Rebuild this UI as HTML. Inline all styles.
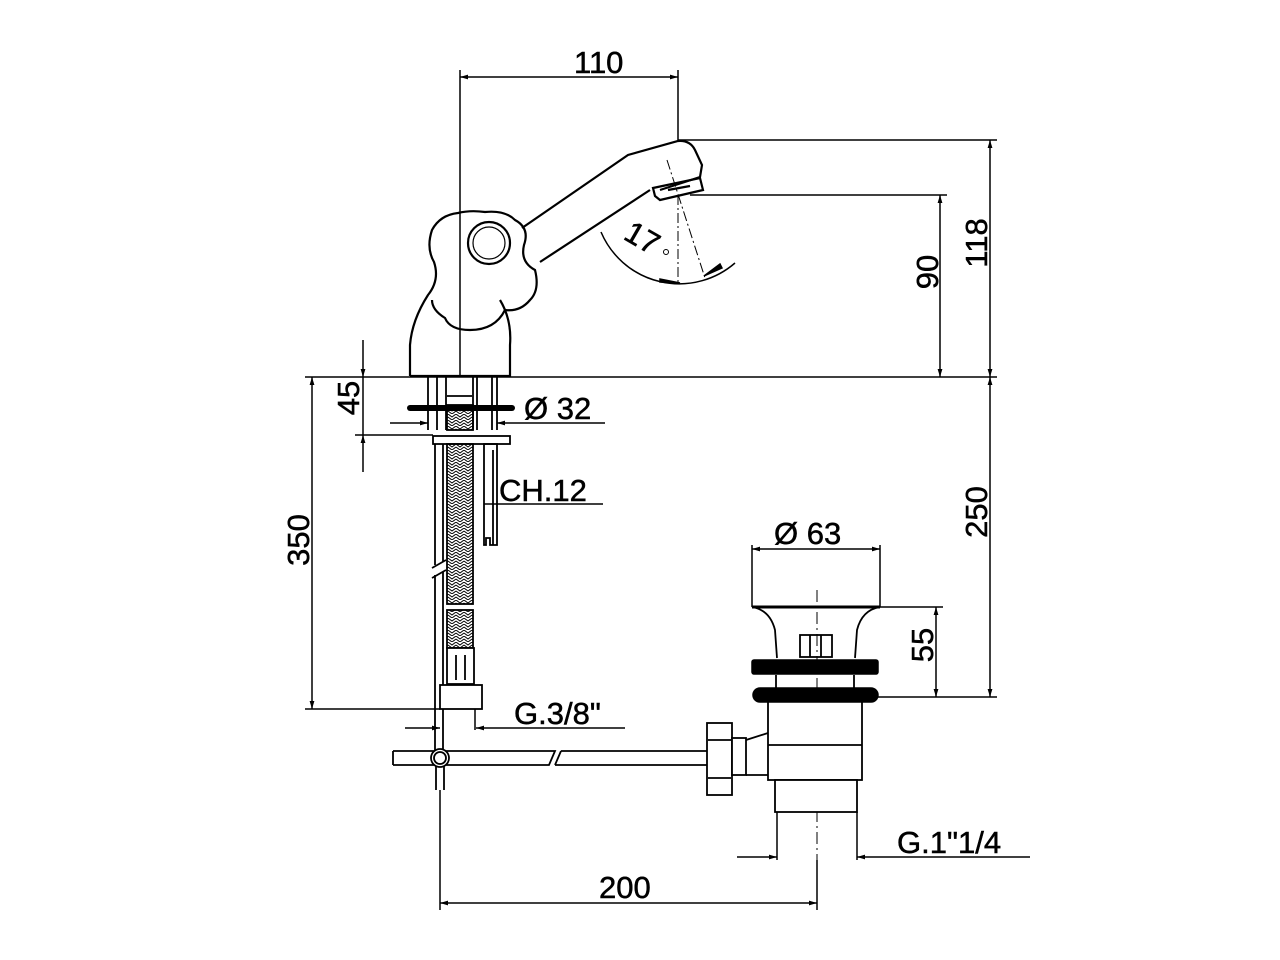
<!DOCTYPE html>
<html><head><meta charset="utf-8"><style>
html,body{margin:0;padding:0;background:#fff}
svg{display:block}
text{font-family:"Liberation Sans",Arial,sans-serif;font-size:31px;fill:#000;stroke:#000;stroke-width:0.5}
</style></head><body>
<svg width="1280" height="960" viewBox="0 0 1280 960" xmlns="http://www.w3.org/2000/svg">
<defs>
<marker id="a" viewBox="0 0 10 10" refX="10" refY="5" markerWidth="12" markerHeight="8" markerUnits="userSpaceOnUse" orient="auto-start-reverse"><path d="M0,2 L10,5 L0,8 Z" fill="#000"/></marker>
<pattern id="h" width="8" height="6" patternUnits="userSpaceOnUse"><path d="M0,0 L4,3 L8,0 M0,3 L4,6 L8,3" stroke="#000" stroke-width="1" fill="none"/></pattern>
</defs>
<g stroke="#000" stroke-width="1.5" fill="none">
<line x1="460" y1="70" x2="460" y2="377"/>
<line x1="678" y1="70" x2="678" y2="140"/>
<line x1="460" y1="77" x2="678" y2="77" marker-start="url(#a)" marker-end="url(#a)"/>
<line x1="678" y1="140" x2="997" y2="140"/>
<line x1="690" y1="195" x2="947" y2="195"/>
<line x1="990" y1="140" x2="990" y2="377" marker-start="url(#a)" marker-end="url(#a)"/>
<line x1="940" y1="195" x2="940" y2="377" marker-start="url(#a)" marker-end="url(#a)"/>
<line x1="305" y1="377" x2="997" y2="377"/>
<line x1="990" y1="377" x2="990" y2="697" marker-start="url(#a)" marker-end="url(#a)"/>
<line x1="860" y1="697" x2="997" y2="697"/>
<line x1="880" y1="607" x2="943" y2="607"/>
<line x1="936" y1="607" x2="936" y2="697" marker-start="url(#a)" marker-end="url(#a)"/>
<line x1="312" y1="377" x2="312" y2="709" marker-start="url(#a)" marker-end="url(#a)"/>
<line x1="305" y1="709" x2="440" y2="709"/>
<line x1="363" y1="340" x2="363" y2="377" marker-end="url(#a)"/>
<line x1="363" y1="472" x2="363" y2="435" marker-end="url(#a)"/>
<line x1="363" y1="377" x2="363" y2="435"/>
<line x1="355" y1="435" x2="433" y2="435"/>
<line x1="390" y1="423" x2="428" y2="423" marker-end="url(#a)"/>
<line x1="605" y1="423" x2="497" y2="423" marker-end="url(#a)"/>
<line x1="484" y1="504" x2="603" y2="504"/>
<line x1="752" y1="545" x2="752" y2="607"/>
<line x1="880" y1="545" x2="880" y2="607"/>
<line x1="752" y1="549" x2="880" y2="549" marker-start="url(#a)" marker-end="url(#a)"/>
<line x1="475" y1="709" x2="475" y2="730"/>
<line x1="405" y1="728" x2="440" y2="728" marker-end="url(#a)"/>
<line x1="625" y1="728" x2="476" y2="728" marker-end="url(#a)"/>
<line x1="777" y1="812" x2="777" y2="860"/>
<line x1="857" y1="812" x2="857" y2="860"/>
<line x1="737" y1="857" x2="777" y2="857" marker-end="url(#a)"/>
<line x1="1030" y1="857" x2="857" y2="857" marker-end="url(#a)"/>
<line x1="440" y1="790" x2="440" y2="910"/>
<line x1="817" y1="860" x2="817" y2="910"/>
<line x1="440" y1="903" x2="817" y2="903" marker-start="url(#a)" marker-end="url(#a)"/>
<line x1="817" y1="590" x2="817" y2="860" stroke-dasharray="12,4,2,4" stroke-width="1"/>
<line x1="678" y1="195" x2="678" y2="285" stroke-dasharray="10,3,2,3" stroke-width="1"/>
<line x1="667" y1="160" x2="705" y2="278" stroke-dasharray="10,3,2,3" stroke-width="1"/>
<path d="M601,232 A85,85 0 0 0 735,263" />
<path d="M660,282 L680,283 L660,279Z" fill="#000"/>
<path d="M722,268 L704,276 L720,264Z" fill="#000"/>
<g stroke-width="2.2">
<path d="M410,376 L510,376 L510,345 Q512,320 500,300"/>
<path d="M410,376 L410,345 Q412,320 428,295 Q440,280 434,262 Q426,248 432,230 Q440,215 458,213 Q470,210 485,212 Q505,210 515,220 Q530,228 524,245 Q520,262 535,270 Q540,290 530,300 Q520,312 505,310 Q495,330 470,330 Q450,330 445,318 Q432,310 432,300"/>
<circle cx="489" cy="243" r="21"/>
<circle cx="489" cy="243" r="16" stroke-width="1.2"/>
<path d="M522,228 L628,155 L678,141 Q690,140 695,150 L702,165 L700,177 L660,190"/>
<path d="M540,262 L650,190"/>
<path d="M653,188 L700,178 L703,190 L660,200 L655,196Z"/>
<line x1="668" y1="190" x2="690" y2="186"/>
</g>
<g stroke-width="1.8">
<line x1="428" y1="377" x2="428" y2="430"/>
<line x1="437" y1="377" x2="437" y2="430"/>
<line x1="446" y1="377" x2="446" y2="430"/>
<line x1="473" y1="377" x2="473" y2="430"/>
<line x1="477" y1="377" x2="477" y2="430"/>
<line x1="492" y1="377" x2="492" y2="430"/>
<line x1="497" y1="377" x2="497" y2="430"/>
<rect x="433" y="436" width="77" height="8"/>
<line x1="447" y1="396" x2="472" y2="396"/>
<rect x="447" y="405" width="26" height="25" fill="url(#h)"/>
</g>
<line x1="410" y1="408" x2="512" y2="408" stroke-width="6" stroke-linecap="round"/>
<g stroke-width="1.8">
<path d="M435,444 L435,565 M443,444 L443,562"/>
<path d="M435,575 L435,752 M443,572 L443,750"/>
<path d="M432,568 L446,560 M432,578 L446,570"/>
<rect x="447" y="444" width="26" height="160" fill="url(#h)"/>
<rect x="447" y="610" width="26" height="38" fill="url(#h)"/>
<rect x="447" y="648" width="27" height="36" fill="#fff"/>
<line x1="456" y1="655" x2="456" y2="680"/><line x1="465" y1="655" x2="465" y2="680"/>
<rect x="440" y="685" width="42" height="24" fill="#fff"/>
<path d="M484,444 L497,444 L497,545 L490,545 L490,538 L486,538 L486,545 L484,545Z"/>
<line x1="493" y1="450" x2="493" y2="545"/>
<path d="M393,751 L555,751 L552,758 M393,765 L549,765 L552,758 M393,751 L393,765"/>
<path d="M561,751 L707,751 M555,765 L707,765 M561,751 L558,758 L555,765"/>
<line x1="436" y1="765" x2="436" y2="790"/><line x1="444" y1="765" x2="444" y2="790"/>
<circle cx="440" cy="758" r="9" fill="#fff"/>
<circle cx="440" cy="758" r="6"/>
<rect x="707" y="723" width="25" height="72" fill="#fff"/>
<line x1="708" y1="740" x2="731" y2="740"/><line x1="708" y1="778" x2="731" y2="778"/>
<rect x="732" y="738" width="14" height="37" fill="#fff"/>
<path d="M746,740 L768,733 M746,775 L768,775"/>
<rect x="768" y="700" width="94" height="80" fill="#fff"/>
<line x1="768" y1="745" x2="862" y2="745"/>
<rect x="775" y="780" width="82" height="32" fill="#fff"/>
<line x1="776" y1="675" x2="776" y2="690"/><line x1="854" y1="675" x2="854" y2="690"/>
<path d="M752,607 Q770,610 775,630 L777,658 M880,607 Q862,610 857,630 L855,658"/>
<rect x="800" y="635" width="32" height="22"/>
<line x1="810" y1="635" x2="810" y2="657"/><line x1="821" y1="635" x2="821" y2="657"/>
</g>
<line x1="752" y1="607" x2="880" y2="607" stroke="#000" stroke-width="3"/>
<rect x="752" y="660" width="126" height="14" rx="2" fill="#000"/>
<rect x="753" y="688" width="125" height="14" rx="7" fill="#000"/>
</g>
<text x="574" y="73">110</text>
<text transform="translate(987,243) rotate(-90)" text-anchor="middle">118</text>
<text transform="translate(938,272) rotate(-90)" text-anchor="middle">90</text>
<text transform="translate(987,512) rotate(-90)" text-anchor="middle">250</text>
<text transform="translate(933,645) rotate(-90)" text-anchor="middle">55</text>
<text transform="translate(309,540) rotate(-90)" text-anchor="middle">350</text>
<text transform="translate(359,398) rotate(-90)" text-anchor="middle">45</text>
<text transform="translate(637,247) rotate(30)" text-anchor="middle">17</text>
<circle cx="666" cy="252" r="2.5" fill="none" stroke="#000" stroke-width="1"/>
<text x="524" y="419">Ø 32</text>
<text x="499" y="501">CH.12</text>
<text x="774" y="544">Ø 63</text>
<text x="514" y="724">G.3/8"</text>
<text x="897" y="853">G.1"1/4</text>
<text x="599" y="898">200</text>
</svg>
</body></html>
